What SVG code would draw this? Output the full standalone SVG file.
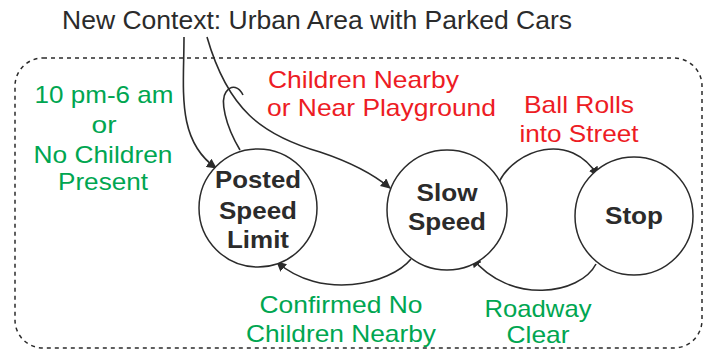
<svg xmlns="http://www.w3.org/2000/svg" width="705" height="350" viewBox="0 0 705 350">
<defs>
<marker id="arr" viewBox="0 0 10 10" refX="9" refY="5" markerWidth="10" markerHeight="10" markerUnits="userSpaceOnUse" orient="auto">
<path d="M0,0 L10,5 L0,10 z" fill="#2b2b2b"/>
</marker>
<style>
.t{font-family:"Liberation Sans",Arial,sans-serif;font-size:24px;text-anchor:middle}
.title{fill:#2b2b2b;text-anchor:start;font-size:25px}
.n{font-weight:bold;fill:#2b2b2b}
.g{fill:#00a651}
.r{fill:#ed1c24}
.c{fill:#fff;stroke:#2b2b2b;stroke-width:1.5}
.e{fill:none;stroke:#2b2b2b;stroke-width:1.6}
</style>
</defs>
<rect width="705" height="350" fill="#fff"/>
<g id="context">
<rect x="15" y="58" width="687" height="290" rx="28" fill="none" stroke="#2b2b2b" stroke-width="1.5" stroke-dasharray="4,4"/>
<text class="t title" x="62" y="29" textLength="510" lengthAdjust="spacingAndGlyphs">New Context: Urban Area with Parked Cars</text>
</g>
<g id="connectors">
<path class="e" d="M184,37 C184,90 176,140 216,168" marker-end="url(#arr)"/>
<path class="e" d="M207,37 C228,110 262,135 320,152 C350,162 372,173 390,188" marker-end="url(#arr)"/>
<path class="e" d="M240,150 C225,125 220,100 226,92 C232,84 239,87 243,95"/>
<path class="e" d="M499,182 C515,150 570,130 598,176" marker-end="url(#arr)"/>
<path class="e" d="M596,264 C580,295 510,305 472,258" marker-end="url(#arr)"/>
<path class="e" d="M411,259 C390,285 320,300 277,262" marker-end="url(#arr)"/>
</g>
<g id="labels">
<text class="t g" x="104" y="103" textLength="139" lengthAdjust="spacingAndGlyphs">10 pm-6 am</text>
<text class="t g" x="104" y="133" textLength="25" lengthAdjust="spacingAndGlyphs">or</text>
<text class="t g" x="103" y="163" textLength="139" lengthAdjust="spacingAndGlyphs">No Children</text>
<text class="t g" x="103" y="190" textLength="90" lengthAdjust="spacingAndGlyphs">Present</text>
<text class="t r" x="268" y="88" style="text-anchor:start" textLength="191" lengthAdjust="spacingAndGlyphs">Children Nearby</text>
<text class="t r" x="267" y="116" style="text-anchor:start" textLength="229" lengthAdjust="spacingAndGlyphs">or Near Playground</text>
<text class="t r" x="579" y="113" textLength="110" lengthAdjust="spacingAndGlyphs">Ball Rolls</text>
<text class="t r" x="579" y="142" textLength="119" lengthAdjust="spacingAndGlyphs">into Street</text>
<text class="t g" x="341" y="313" textLength="163" lengthAdjust="spacingAndGlyphs">Confirmed No</text>
<text class="t g" x="341" y="342" textLength="190" lengthAdjust="spacingAndGlyphs">Children Nearby</text>
<text class="t g" x="538" y="317" textLength="107" lengthAdjust="spacingAndGlyphs">Roadway</text>
<text class="t g" x="538" y="343" textLength="63" lengthAdjust="spacingAndGlyphs">Clear</text>
</g>
<g id="posted">
<circle class="c" cx="258" cy="208" r="59"/>
<text class="t n" x="258" y="188" textLength="86" lengthAdjust="spacingAndGlyphs">Posted</text>
<text class="t n" x="258" y="219" textLength="78" lengthAdjust="spacingAndGlyphs">Speed</text>
<text class="t n" x="258" y="248" textLength="62" lengthAdjust="spacingAndGlyphs">Limit</text>
</g>
<g id="slow">
<circle class="c" cx="447" cy="210" r="60"/>
<text class="t n" x="447" y="201" textLength="61" lengthAdjust="spacingAndGlyphs">Slow</text>
<text class="t n" x="447" y="230" textLength="78" lengthAdjust="spacingAndGlyphs">Speed</text>
</g>
<g id="stop">
<circle class="c" cx="634" cy="216" r="59"/>
<text class="t n" x="634" y="224" textLength="58" lengthAdjust="spacingAndGlyphs">Stop</text>
</g>
</svg>
